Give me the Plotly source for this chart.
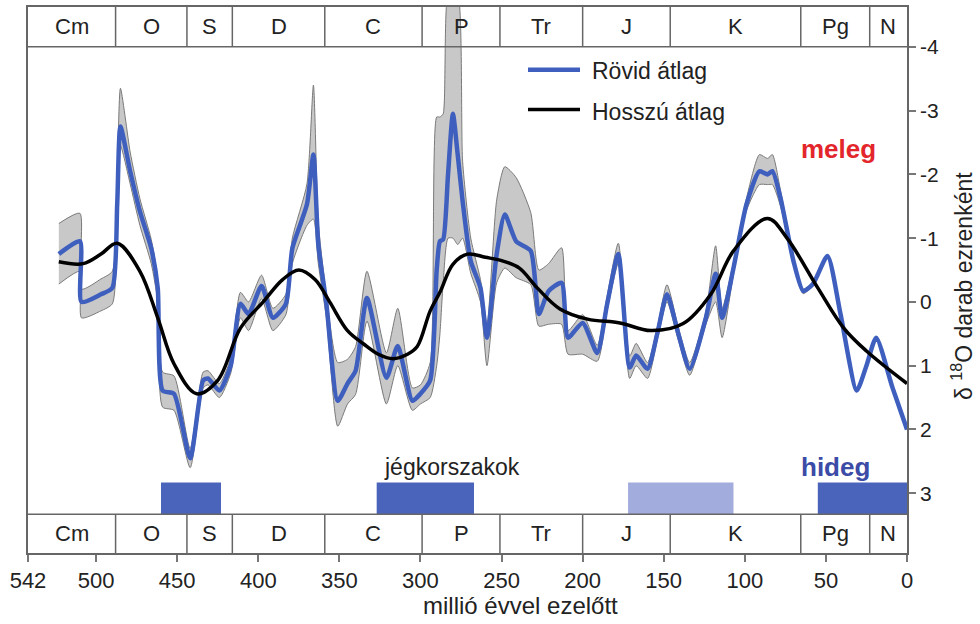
import plotly.graph_objects as go

# ---------------- data ----------------
# short-term average (Ma, value) with uncertainty band
short_age = [523, 510, 509, 497, 490, 487, 485, 479, 473, 466, 462, 459, 452, 442, 434, 431, 424, 417,
             411, 406, 398, 391, 383, 379, 370, 366, 363, 358, 351, 345, 340, 333, 321, 314, 305, 300,
             294, 290, 288, 286, 283, 280, 277, 274, 269, 263, 259, 253, 248, 241, 232, 227, 221, 213,
             209, 200, 191, 185, 178, 171, 167, 160, 154, 148, 141, 134, 124, 118, 114, 107, 99, 91,
             86, 83, 78, 70, 64, 58, 49, 41, 31, 25, 19, 9, 0]
short_mean = [-0.75, -0.95, 0.00, -0.12, -0.22, -1.53, -2.75, -2.05, -1.42, -0.84, -0.22, 1.39, 1.44, 2.45,
              1.23, 1.20, 1.39, 1.00, 0.03, 0.19, -0.25, 0.25, 0.03, -0.84, -1.53, -2.31, -0.90, 0.03,
              1.55, 1.28, 1.08, -0.06, 1.19, 0.69, 1.55, 1.44, 1.23, -0.50, -0.95, -0.98, -2.00, -2.95,
              -2.30, -1.58, -0.64, -0.22, 0.56, -0.75, -1.37, -0.95, -0.80, 0.19, -0.17, -0.30, 0.56,
              0.33, 0.80, 0.05, -0.75, 1.03, 0.84, 1.05, 0.50, -0.12, 0.50, 1.05, 0.25, -0.44, 0.25,
              -0.53, -1.53, -2.05, -2.00, -2.05, -1.63, -0.64, -0.17, -0.28, -0.72, 0.19, 1.39, 1.00,
              0.56, 1.34, 2.00]
band_upper = [-1.23, -1.39, -0.20, -0.36, -0.48, -1.95, -3.35, -2.35, -1.62, -0.98, -0.35, 1.10, 1.16, 2.30,
              1.10, 1.08, 1.28, 0.88, -0.15, 0.00, -0.42, 0.10, -0.12, -1.00, -1.85, -3.40, -1.25, -0.10,
              0.95, 0.90, 0.70, -0.48, 0.80, 0.10, 1.35, 1.30, 0.95, -2.90, -2.90, -2.95, -4.80, -4.80,
              -4.80, -2.20, -1.00, -0.35, 0.35, -1.60, -2.12, -1.95, -1.40, -0.50, -0.60, -0.85, 0.45,
              0.20, 0.68, -0.08, -0.92, 0.85, 0.65, 0.95, 0.40, -0.27, 0.40, 0.95, 0.15, -0.88, 0.10,
              -0.62, -1.62, -2.31, -2.25, -2.31, -1.75, -0.70, -0.20, -0.30, -0.72, 0.19, 1.39, 1.00,
              0.56, 1.34, 2.00]
band_lower = [-0.28, -0.48, 0.25, 0.14, 0.03, -1.25, -2.45, -1.85, -1.20, -0.60, 0.00, 1.65, 1.70, 2.60,
              1.35, 1.30, 1.50, 1.12, 0.25, 0.45, -0.05, 0.45, 0.20, -0.60, -1.20, -1.30, -0.60, 0.25,
              1.95, 1.60, 1.45, 0.30, 1.60, 1.00, 1.70, 1.60, 1.50, 1.00, 0.50, -0.30, -1.00, -1.00,
              -0.90, -1.00, -0.45, 0.00, 1.00, -0.30, -0.53, -0.38, -0.27, 0.38, 0.35, 0.35, 0.82,
              0.82, 0.93, 0.15, -0.60, 1.20, 1.00, 1.20, 0.60, 0.00, 0.60, 1.15, 0.35, 0.00, 0.56,
              -0.43, -1.43, -1.84, -1.84, -1.84, -1.50, -0.58, -0.13, -0.26, -0.72, 0.19, 1.39, 1.00,
              0.56, 1.34, 2.00]

# long-term average
long_age = [523, 508, 497, 487, 473, 462, 452, 438, 425, 411, 397, 385, 375, 365, 356, 345, 335, 326,
            317, 308, 302, 294, 288, 280, 271, 260, 249, 239, 228, 214, 197, 177, 158, 138, 121, 107,
            86, 74, 55, 39, 25, 0]
long_mean = [-0.63, -0.60, -0.75, -0.92, -0.48, 0.25, 0.97, 1.44, 1.23, 0.41, 0.00, -0.35, -0.50, -0.35,
             0.00, 0.45, 0.66, 0.82, 0.89, 0.82, 0.70, 0.14, -0.15, -0.59, -0.75, -0.70, -0.64, -0.53,
             -0.22, 0.11, 0.27, 0.33, 0.45, 0.34, -0.12, -0.80, -1.31, -1.00, -0.22, 0.41, 0.77, 1.28]

# geologic periods
period_names = ["Cm", "O", "S", "D", "C", "P", "Tr", "J", "K", "Pg", "N"]
period_start = [542, 488, 444, 416, 359, 299, 251, 200, 146, 65.5, 23]
period_end = [488, 444, 416, 359, 299, 251, 200, 146, 65.5, 23, 0]

# ice ages
ice_start = [460, 327, 172, 55]
ice_end = [423, 267, 107, 0]
ice_strength = ["strong", "strong", "weak", "strong"]

x_ticks = [542, 500, 450, 400, 350, 300, 250, 200, 150, 100, 50, 0]
y_ticks = [-4, -3, -2, -1, 0, 1, 2, 3]

# ---------------- styling ----------------
FONT = "Liberation Sans, Arial, sans-serif"
BLUE = "#3f5fbf"
Y_TOP, Y_BOT = -4.625, 3.9375
BAR_TOP_EDGE = -4.0
BAR_BOT_EDGE = 3.33
ICE_TOP = 2.83
EDGE = "#666666"

fig = go.Figure()

# uncertainty band
fig.add_trace(go.Scatter(
    x=short_age + short_age[::-1],
    y=band_upper + band_lower[::-1],
    fill="toself", fillcolor="#c8c8c8",
    line=dict(color="#7a7a7a", width=1, shape="spline", smoothing=0.6),
    mode="lines", hoverinfo="skip", showlegend=False))

fig.add_trace(go.Scatter(
    x=short_age, y=short_mean, mode="lines", name="Rövid átlag",
    line=dict(color=BLUE, width=4.5, shape="spline", smoothing=0.6), showlegend=False))

fig.add_trace(go.Scatter(
    x=long_age, y=long_mean, mode="lines", name="Hosszú átlag",
    line=dict(color="black", width=3.5, shape="spline", smoothing=1.0), showlegend=False))

shapes = []
annotations = []

# period bars
shapes.append(dict(type="line", xref="x", yref="y", x0=542, x1=0, y0=BAR_TOP_EDGE, y1=BAR_TOP_EDGE,
                   line=dict(color=EDGE, width=1.5)))
shapes.append(dict(type="line", xref="x", yref="y", x0=542, x1=0, y0=BAR_BOT_EDGE, y1=BAR_BOT_EDGE,
                   line=dict(color=EDGE, width=1.5)))
for i, (s, e, n) in enumerate(zip(period_start, period_end, period_names)):
    if i > 0:
        shapes.append(dict(type="line", xref="x", yref="y", x0=s, x1=s, y0=Y_TOP, y1=BAR_TOP_EDGE,
                           line=dict(color=EDGE, width=1.5)))
        shapes.append(dict(type="line", xref="x", yref="y", x0=s, x1=s, y0=BAR_BOT_EDGE, y1=Y_BOT,
                           line=dict(color=EDGE, width=1.5)))
    mid = (s + e) / 2
    for yy in [(Y_TOP + BAR_TOP_EDGE) / 2, (BAR_BOT_EDGE + Y_BOT) / 2]:
        annotations.append(dict(x=mid, y=yy, xref="x", yref="y", text=n, showarrow=False,
                                xanchor="center", yanchor="middle",
                                font=dict(family=FONT, size=22, color="#222")))

# ice age bars
for s, e, k in zip(ice_start, ice_end, ice_strength):
    shapes.append(dict(type="rect", xref="x", yref="y", x0=s, x1=e, y0=ICE_TOP, y1=BAR_BOT_EDGE,
                       fillcolor="#4a64bb" if k == "strong" else "#a2addd", line=dict(width=0),
                       layer="below"))


# legend (drawn manually) -- pixel helpers for paper coordinates
def px_x(p):
    return (p - 28) / 879


def px_y(p):
    return (553 - p) / 548


shapes.append(dict(type="line", xref="paper", yref="paper", x0=px_x(528), x1=px_x(580),
                   y0=px_y(68), y1=px_y(68), line=dict(color=BLUE, width=4.5)))
shapes.append(dict(type="line", xref="paper", yref="paper", x0=px_x(528), x1=px_x(580),
                   y0=px_y(108), y1=px_y(108), line=dict(color="black", width=3.5)))


def note(text, x, y, size=22, color="#222", xanchor="center", angle=0):
    annotations.append(dict(x=px_x(x), y=px_y(y), xref="paper", yref="paper", text=text,
                            showarrow=False, xanchor=xanchor, yanchor="middle", textangle=angle,
                            font=dict(family=FONT, size=size, color=color)))


note("Rövid átlag", 590, 69, size=23, xanchor="left")
note("Hosszú átlag", 590, 110, size=23, xanchor="left")
note("<b>meleg</b>", 838, 148, size=26, color="#e3262b")
note("<b>hideg</b>", 835, 467, size=26, color="#3b4ba6")
note("jégkorszakok", 452, 467, size=23)
note("millió évvel ezelőtt", 520, 606, size=24)
note("δ <sup>18</sup>O darab ezrenként", 962, 285, size=23, angle=-90)

fig.update_layout(
    width=980, height=624,
    margin=dict(l=28, r=73, t=5, b=71),
    paper_bgcolor="white", plot_bgcolor="white",
    showlegend=False,
    shapes=shapes, annotations=annotations,
    xaxis=dict(range=[542, 0], tickvals=x_ticks, ticktext=[str(v) for v in x_ticks],
               ticks="outside", ticklen=7, tickcolor="#777", tickwidth=1.5,
               showline=True, linecolor=EDGE, linewidth=1.5, mirror=True,
               showgrid=False, zeroline=False,
               tickfont=dict(family=FONT, size=22, color="#222")),
    yaxis=dict(range=[Y_BOT, Y_TOP], side="right", tickvals=y_ticks,
               ticktext=[str(v) for v in y_ticks],
               ticks="outside", ticklen=7, tickcolor="#777", tickwidth=1.5,
               showline=True, linecolor=EDGE, linewidth=1.5, mirror=True,
               showgrid=False, zeroline=False,
               tickfont=dict(family=FONT, size=21, color="#222")),
)

fig.write_html("out.html")
